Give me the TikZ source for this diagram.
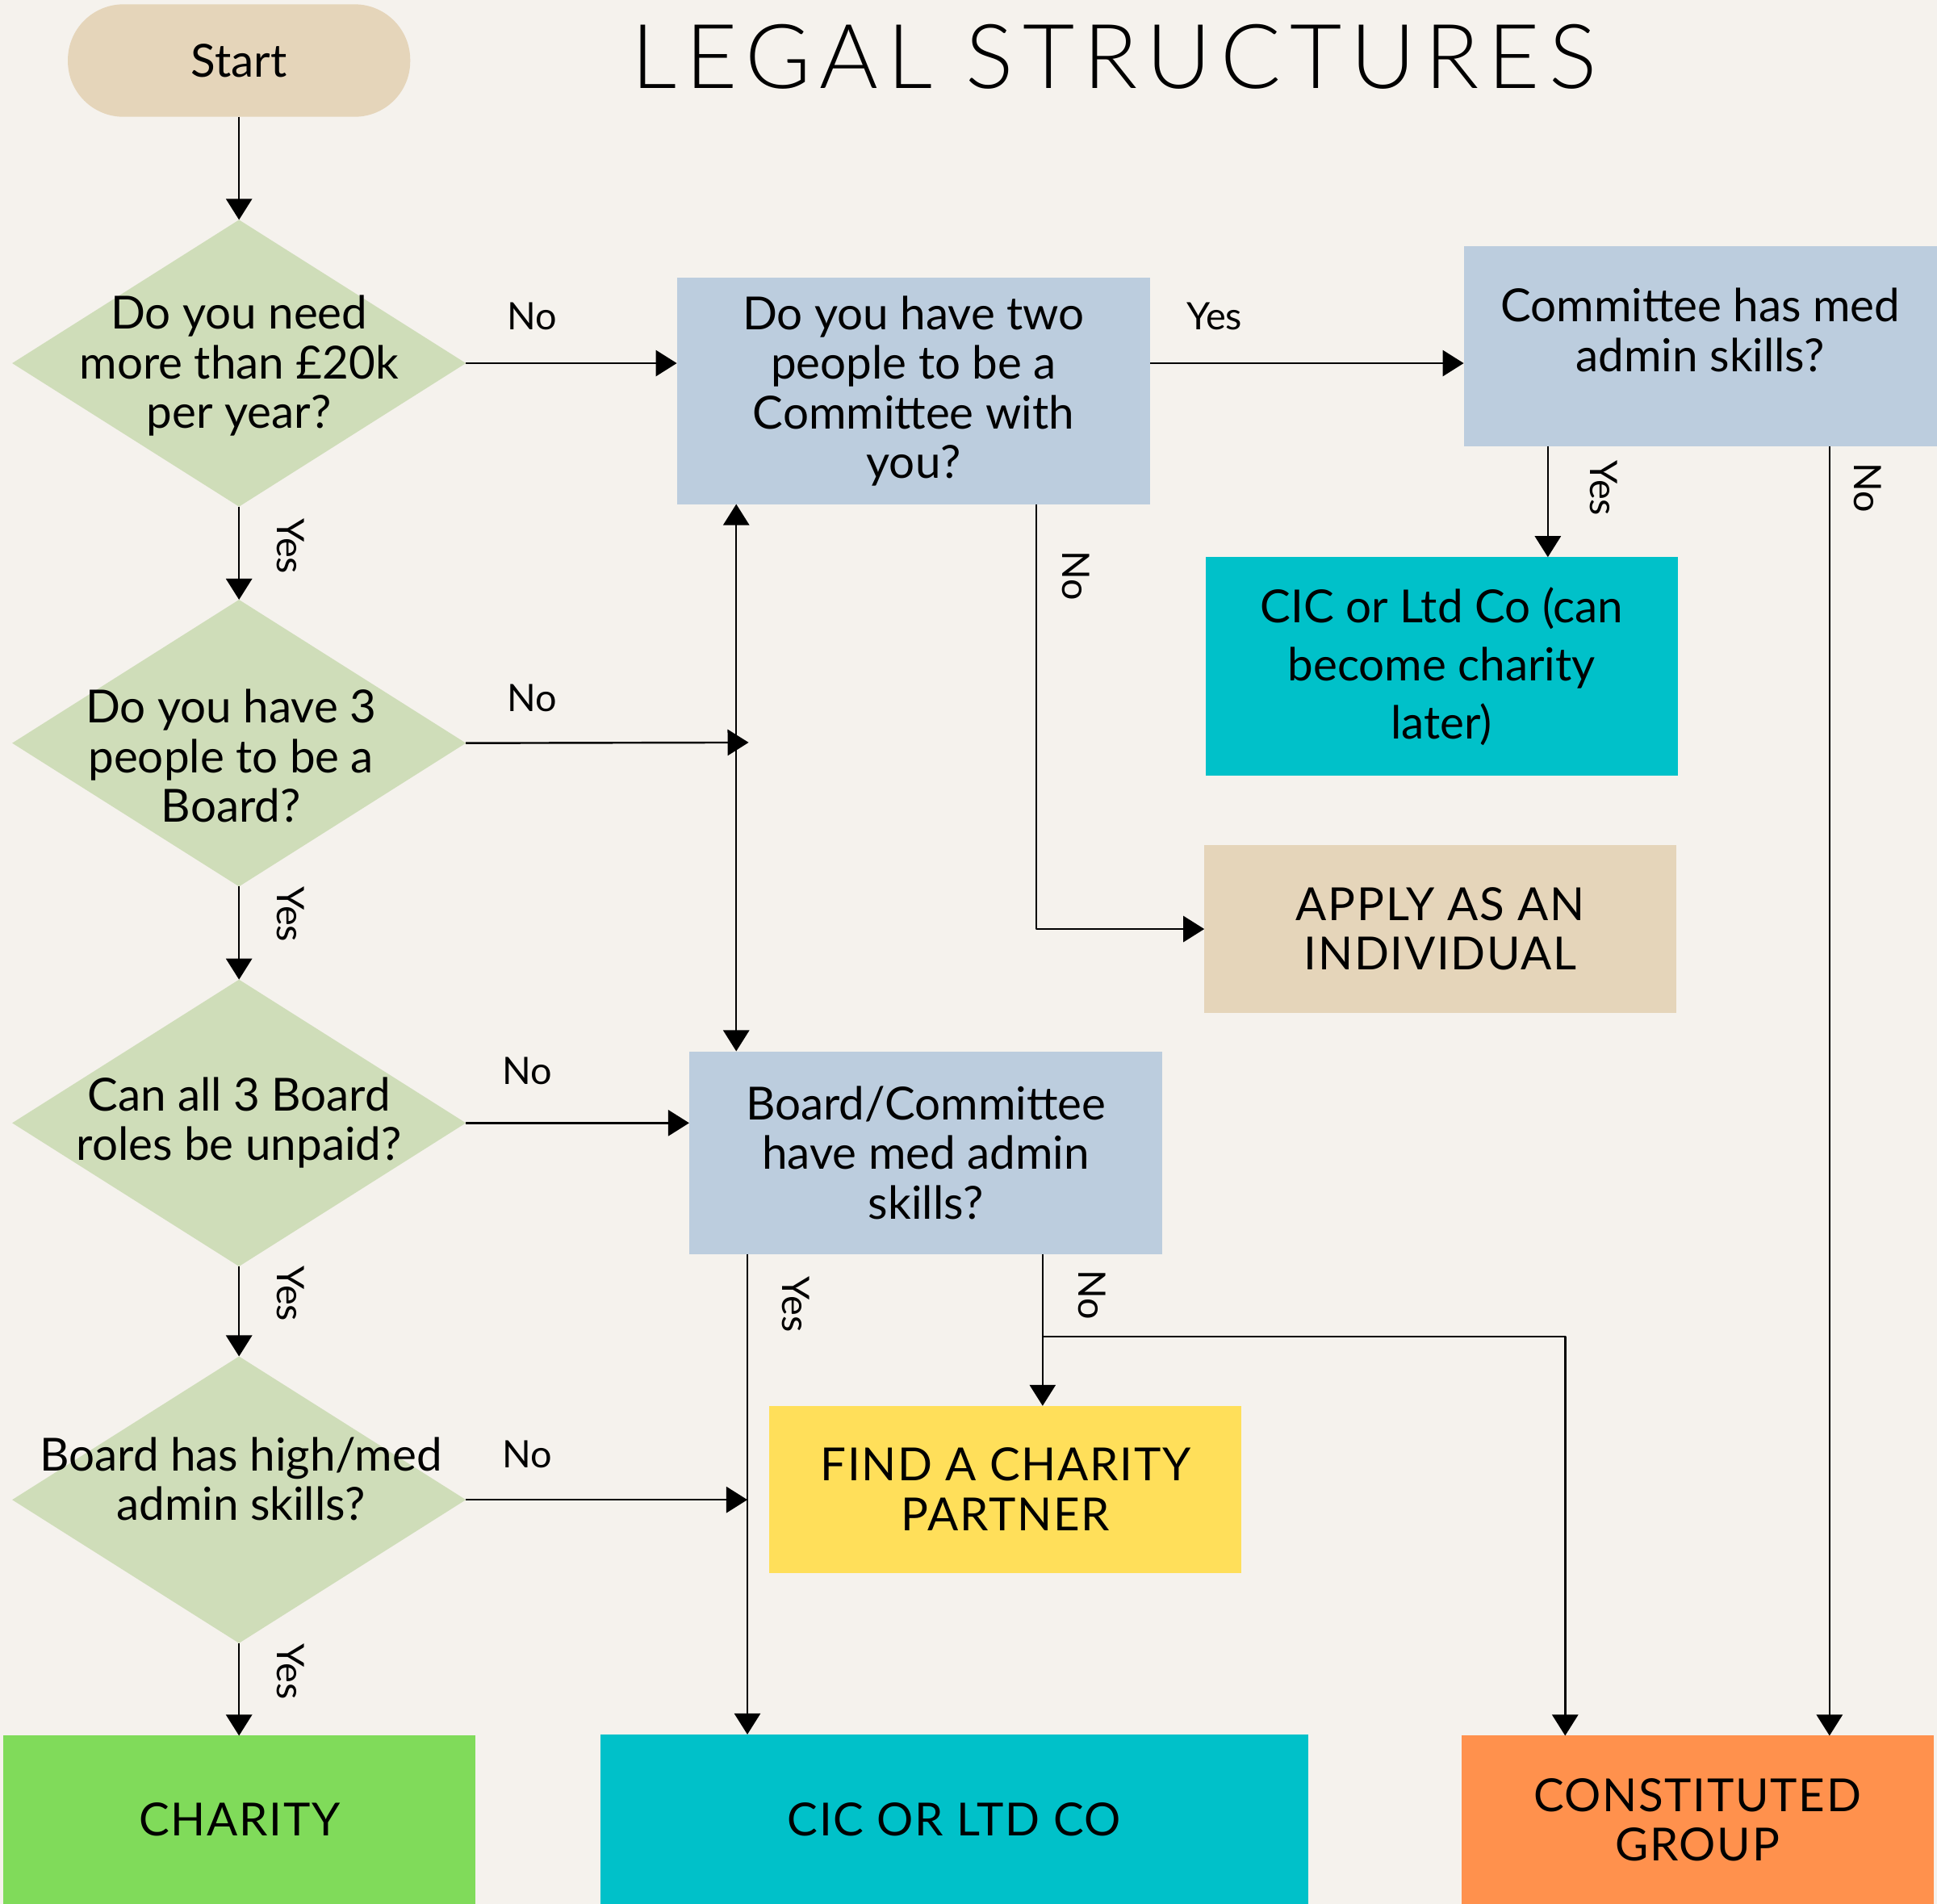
\documentclass[tikz,border=0pt]{standalone}
\usepackage{fontspec}
\setmainfont{Lato}
\newfontfamily\titlefont[LetterSpace=10]{Lato Light}
\newfontfamily\capsfont[LetterSpace=3]{Lato}
\usetikzlibrary{shapes.geometric,arrows.meta}
\definecolor{paper}{HTML}{F5F2ED}
\definecolor{sand}{HTML}{E5D5BA}
\definecolor{sage}{HTML}{CFDDB9}
\definecolor{steel}{HTML}{BCCDDE}
\definecolor{cicteal}{HTML}{00C1C9}
\definecolor{sun}{HTML}{FFDF5A}
\definecolor{leaf}{HTML}{80DB5A}
\definecolor{tang}{HTML}{FF914D}
\tikzset{
	box/.style={rectangle,inner sep=0pt,outer sep=0pt,align=center,font=\fontsize{10.5}{11.4}\selectfont},
	capsbox/.style={box,font=\capsfont\fontsize{10.5}{11.4}\selectfont},
	dia/.style={diamond,fill=sage,inner sep=0pt,outer sep=0pt,minimum width=36.7mm,minimum height=23.2mm},
	dtext/.style={align=center,font=\fontsize{10.5}{11.4}\selectfont},
	lab/.style={font=\fontsize{8.7}{10}\selectfont},
	vlab/.style={lab,rotate=-90}
}
\begin{document}
\begin{tikzpicture}[x=0.01cm,y=-0.01cm,>={Triangle[length=1.7mm,width=2.1mm]},line width=0.45pt,line join=round]
			\fill[paper] (0,0) rectangle (1568,1541);
			\useasboundingbox (0,0) rectangle (1568,1541);
			\node[font=\titlefont\fontsize{20.6}{24}\selectfont] (title) at (902,46) {LEGAL STRUCTURES};
			\node[box,fill=sand,rounded corners=4.5mm,minimum width=27.7mm,minimum height=9.1mm] (start) at (193.5,49) {Start};
			\node[dia] (d1) at (193.5,294) {};
			\node[dia] (d2) at (193.5,601.5) {};
			\node[dia] (d3) at (193.5,909) {};
			\node[dia] (d4) at (193.5,1214) {};
			\node[dtext] (d1t) at (193.5,296) {Do you need\\more than £20k\\per year?};
			\node[dtext] (d2t) at (187,612) {Do you have 3\\people to be a\\Board?};
			\node[dtext] (d3t) at (193.5,909) {Can all 3 Board\\roles be unpaid?};
			\node[dtext] (d4t) at (195,1197) {Board has high/med\\admin skills?};
			\node[box,fill=steel,minimum width=38.3mm,minimum height=18.3mm] (q1) at (739.5,316.5) {Do you have two\\people to be a\\Committee with\\you?};
			\node[box,fill=steel,minimum width=38.3mm,minimum height=16.2mm,text depth=2.6mm] (c1) at (1376.5,280) {Committee has med\\admin skills?};
			\node[box,fill=cicteal,minimum width=38.2mm,minimum height=17.7mm,font=\fontsize{10.5}{13.4}\selectfont] (cic1) at (1167,539.5) {CIC or Ltd Co (can\\become charity\\later)};
			\node[capsbox,fill=sand,minimum width=38.2mm,minimum height=13.6mm] (ind) at (1166,752) {APPLY AS AN\\INDIVIDUAL};
			\node[box,fill=steel,minimum width=38.3mm,minimum height=16.4mm] (q3) at (749.5,933) {Board/Committee\\have med admin\\skills?};
			\node[capsbox,fill=sun,minimum width=38.2mm,minimum height=13.5mm] (fcp) at (814,1205.5) {FIND A CHARITY\\PARTNER};
			\node[capsbox,fill=leaf,minimum width=38.2mm,minimum height=13.6mm] (chr) at (194,1473) {CHARITY};
			\node[capsbox,fill=cicteal,minimum width=57.3mm,minimum height=13.7mm] (cic) at (772.5,1472.5) {CIC OR LTD CO};
			\node[capsbox,fill=tang,minimum width=38.2mm,minimum height=13.6mm] (grp) at (1374,1473) {CONSTITUTED\\GROUP};
			\coordinate (c1y) at (1253,361);
			\coordinate (c1n) at (1481,361);
			\coordinate (q1n) at (839,408);
			\coordinate (j2) at (596,601);
			\coordinate (q3y) at (605,1015);
			\coordinate (q3n) at (844,1015);
			\coordinate (br) at (844,1082);
			\coordinate (gl) at (1267,1082);
			\draw[->] (start) -- (d1);
			\draw[->] (d1) -- (d2);
			\draw[->] (d2) -- (d3);
			\draw[->] (d3) -- (d4);
			\draw[->] (d4.south) -- (d4.south |- chr.north);
			\draw[->] (d1.east) -- (d1.east -| q1.west);
			\draw[->] (q1.east |- d1.east) -- (c1.west |- d1.east);
			\draw[->] (c1y) -- (c1y |- cic1.north);
			\draw[->] (c1n) -- (c1n |- grp.north);
			\draw[->] (q1n) |- (ind.west);
			\draw[->] (d2.east) -- ([xshift=1mm]j2);
			\draw[->] (j2) -- (j2 |- q1.south);
			\draw[->] (j2) -- (j2 |- q3.north);
			\draw[->] (d3.east) -- (d3.east -| q3.west);
			\draw[->] (d4.east) -- (d4.east -| q3y);
			\draw[->] (q3y) -- (q3y |- cic.north);
			\draw[->] (q3n) -- (q3n |- fcp.north);
			\draw[->] (br) -- (gl) -- (gl |- grp.north);
			\node[lab] (n1) at (431,256) {No};
			\node[lab] (y1) at (983,256) {Yes};
			\node[lab] (n2) at (431,565) {No};
			\node[lab] (n3) at (427,867) {No};
			\node[lab] (n4) at (427,1177) {No};
			\node[vlab] (y2) at (235,442) {Yes};
			\node[vlab] (y3) at (235,740) {Yes};
			\node[vlab] (y4) at (235,1047) {Yes};
			\node[vlab] (y5) at (235,1353) {Yes};
			\node[vlab] (y6) at (1298,395) {Yes};
			\node[vlab] (n5) at (1512,395) {No};
			\node[vlab] (n6) at (871,466) {No};
			\node[vlab] (y7) at (644,1056) {Yes};
			\node[vlab] (n7) at (884,1048) {No};
		\end{tikzpicture}
\end{document}
